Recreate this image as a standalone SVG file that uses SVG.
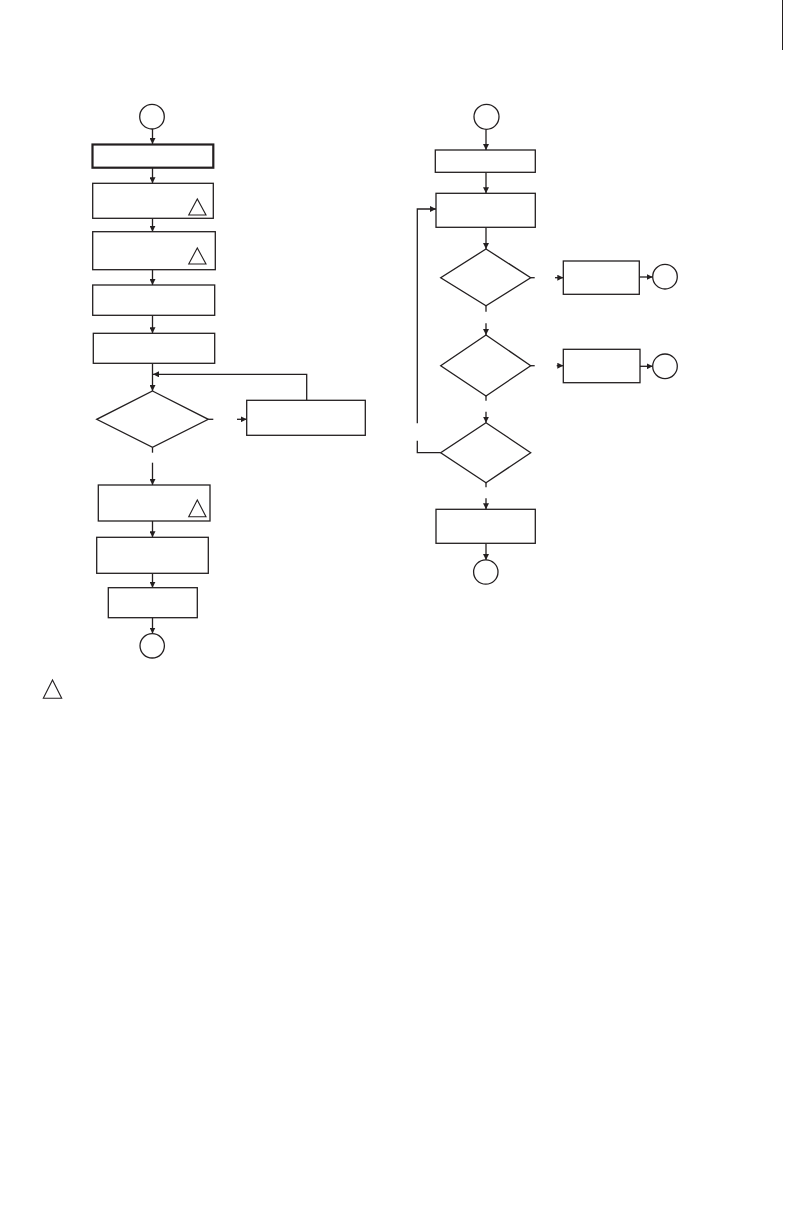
<svg xmlns="http://www.w3.org/2000/svg" width="792" height="1224" viewBox="0 0 792 1224">
<style>
.n{fill:#fff;stroke:#231f20;stroke-width:1.3}
.thick{stroke-width:2.2}
.c{fill:none;stroke:#231f20;stroke-width:1.3}
.t{fill:none;stroke:#231f20;stroke-width:1.1}
</style>
<defs>
<marker id="ah" viewBox="0 0 10 10" refX="10" refY="5" markerWidth="6" markerHeight="6" markerUnits="userSpaceOnUse" orient="auto">
<path d="M0,0 L10,5 L0,10 z" fill="#231f20"/>
</marker>
</defs>
<rect width="792" height="1224" fill="#fff"/>
<line x1="782.5" y1="0" x2="782.5" y2="50" stroke="#231f20" stroke-width="1"/>

<g id="connectors">
<line class="c" x1="152.5" y1="129" x2="152.5" y2="144" marker-end="url(#ah)"/>
<line class="c" x1="152.5" y1="168" x2="152.5" y2="183.3" marker-end="url(#ah)"/>
<line class="c" x1="152.5" y1="218.3" x2="152.5" y2="231.7" marker-end="url(#ah)"/>
<line class="c" x1="152.5" y1="269.7" x2="152.5" y2="285" marker-end="url(#ah)"/>
<line class="c" x1="152.5" y1="315.3" x2="152.5" y2="333.3" marker-end="url(#ah)"/>
<line class="c" x1="152.5" y1="363.3" x2="152.5" y2="391" marker-end="url(#ah)"/>
<polyline class="c" points="306.7,400.3 306.7,374.3 153,374.3" marker-end="url(#ah)"/>
<line class="c" x1="208.3" y1="419.3" x2="213.3" y2="419.3"/>
<line class="c" x1="237" y1="419.3" x2="246.7" y2="419.3" marker-end="url(#ah)"/>
<line class="c" x1="152.5" y1="447.3" x2="152.5" y2="452.7"/>
<line class="c" x1="152.5" y1="462.7" x2="152.5" y2="485" marker-end="url(#ah)"/>
<line class="c" x1="152.5" y1="521" x2="152.5" y2="537.3" marker-end="url(#ah)"/>
<line class="c" x1="152.5" y1="573.3" x2="152.5" y2="587.7" marker-end="url(#ah)"/>
<line class="c" x1="152.5" y1="617.7" x2="152.5" y2="633.5" marker-end="url(#ah)"/>

<line class="c" x1="486" y1="129.3" x2="486" y2="150" marker-end="url(#ah)"/>
<line class="c" x1="486" y1="172.3" x2="486" y2="193.3" marker-end="url(#ah)"/>
<line class="c" x1="486" y1="227.3" x2="486" y2="249" marker-end="url(#ah)"/>
<line class="c" x1="530.7" y1="277.7" x2="534.7" y2="277.7"/>
<line class="c" x1="555" y1="277.7" x2="563.3" y2="277.7" marker-end="url(#ah)"/>
<line class="c" x1="639.3" y1="277" x2="652.7" y2="277" marker-end="url(#ah)"/>
<line class="c" x1="486" y1="305.7" x2="486" y2="311.7"/>
<line class="c" x1="486" y1="323.3" x2="486" y2="335" marker-end="url(#ah)"/>
<line class="c" x1="530.7" y1="365.7" x2="534.7" y2="365.7"/>
<line class="c" x1="556.7" y1="365.7" x2="563.3" y2="365.7" marker-end="url(#ah)"/>
<line class="c" x1="640" y1="366.3" x2="652.7" y2="366.3" marker-end="url(#ah)"/>
<line class="c" x1="486" y1="396" x2="486" y2="400.7"/>
<line class="c" x1="486" y1="411.7" x2="486" y2="422.7" marker-end="url(#ah)"/>
<line class="c" x1="486" y1="482.7" x2="486" y2="487.3"/>
<line class="c" x1="486" y1="498.3" x2="486" y2="509.3" marker-end="url(#ah)"/>
<line class="c" x1="486" y1="543.3" x2="486" y2="560" marker-end="url(#ah)"/>
<polyline class="c" points="440.7,452.7 417.3,452.7 417.3,440.7"/>
<polyline class="c" points="417.3,423.3 417.3,209 436,209" marker-end="url(#ah)"/>
</g>

<g id="start-left"><circle class="n" cx="152" cy="116.7" r="12.3"/></g>
<g id="box1"><rect class="n thick" x="92.5" y="144.5" width="120.8" height="23.2"/></g>
<g id="box2"><rect class="n" x="92.7" y="183.3" width="120.6" height="35"/><polygon class="t" points="188.7,215 197.3,199 206,215"/></g>
<g id="box3"><rect class="n" x="92.7" y="231.7" width="122.6" height="38"/><polygon class="t" points="188.7,264 197.3,248 206,264"/></g>
<g id="box4"><rect class="n" x="92.7" y="285" width="122" height="30.3"/></g>
<g id="box5"><rect class="n" x="93.3" y="333.3" width="121.4" height="30"/></g>
<g id="dec-left"><polygon class="n" points="152.5,391 208.3,419.3 152.5,447.3 96.7,419.3"/></g>
<g id="box6"><rect class="n" x="246.7" y="400.3" width="118.6" height="35"/></g>
<g id="box7"><rect class="n" x="98.3" y="485" width="111.7" height="36"/><polygon class="t" points="188.7,516.7 197.3,500 206,516.7"/></g>
<g id="box8"><rect class="n" x="96.7" y="537.3" width="111.6" height="36"/></g>
<g id="box9"><rect class="n" x="108.3" y="587.7" width="89" height="30"/></g>
<g id="end-left"><circle class="n" cx="152.2" cy="645.8" r="12.2"/></g>

<g id="start-right"><circle class="n" cx="486.5" cy="116.8" r="12.5"/></g>
<g id="boxA"><rect class="n" x="435.3" y="150" width="100" height="22.3"/></g>
<g id="boxB"><rect class="n" x="436" y="193.3" width="99.3" height="34"/></g>
<g id="dec1"><polygon class="n" points="486,249 530.7,277.7 486,305.7 440.7,277.7"/></g>
<g id="boxC"><rect class="n" x="563.3" y="261" width="76" height="33.3"/></g>
<g id="endC"><circle class="n" cx="665" cy="276.7" r="12.3"/></g>
<g id="dec2"><polygon class="n" points="486,335 530.7,365.7 486,396 440.7,365.7"/></g>
<g id="boxD"><rect class="n" x="563.3" y="349.3" width="76.7" height="33.4"/></g>
<g id="endD"><circle class="n" cx="665" cy="366.3" r="12.3"/></g>
<g id="dec3"><polygon class="n" points="486,422.7 530.7,452.7 486,482.7 440.7,452.7"/></g>
<g id="boxE"><rect class="n" x="436" y="509.3" width="99.3" height="34"/></g>
<g id="end-right"><circle class="n" cx="485.8" cy="572" r="12.2"/></g>

<g id="legend"><polygon class="t" points="43.3,698.3 52.5,680 61.7,698.3"/></g>
</svg>
